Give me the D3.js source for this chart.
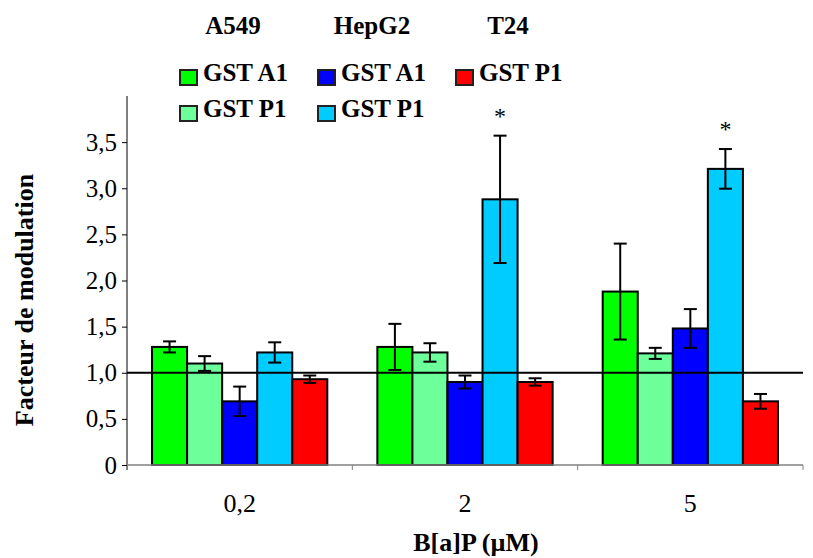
<!DOCTYPE html>
<html>
<head>
<meta charset="utf-8">
<script src="https://cdn.jsdelivr.net/npm/d3@7/dist/d3.min.js"></script>
<style>
  html, body { margin: 0; padding: 0; background: #fff; }
  svg { display: block; }
  text { font-family: "Liberation Serif", "Times New Roman", serif; fill: #000; }
</style>
</head>
<body>
<svg id="chart" width="813" height="558"></svg>
<script>
// ---- data ----
const concentrations = ["0,2", "2", "5"];
const cellLines = ["A549", "HepG2", "T24"];
const seriesKeys = ["a549A1", "a549P1", "hepg2A1", "hepg2P1", "t24P1"];
const seriesLabels = ["GST A1", "GST P1", "GST A1", "GST P1", "GST P1"];
const seriesColors = ["#00ff00", "#6cff9a", "#0000ff", "#00ccff", "#ff0000"];

const a549A1 = [1.28, 1.28, 1.88];
const a549A1Err = [0.06, 0.25, 0.52];
const a549P1 = [1.10, 1.22, 1.21];
const a549P1Err = [0.08, 0.10, 0.06];
const hepg2A1 = [0.69, 0.90, 1.48];
const hepg2A1Err = [0.16, 0.07, 0.21];
const hepg2P1 = [1.22, 2.88, 3.21];
const hepg2P1Err = [0.11, 0.69, 0.215];
const t24P1 = [0.93, 0.90, 0.69];
const t24P1Err = [0.04, 0.04, 0.08];

const significant = [{ conc: "2", key: "hepg2P1" }, { conc: "5", key: "hepg2P1" }];
const yTicks = [0, 0.5, 1.0, 1.5, 2.0, 2.5, 3.0, 3.5];
const referenceValue = 1.0;

const valuesByKey = { a549A1, a549P1, hepg2A1, hepg2P1, t24P1 };
const errByKey = { a549A1: a549A1Err, a549P1: a549P1Err, hepg2A1: hepg2A1Err, hepg2P1: hepg2P1Err, t24P1: t24P1Err };

const rows = [];
concentrations.forEach((c, i) => {
  seriesKeys.forEach((k, j) => {
    rows.push({ conc: c, key: k, color: seriesColors[j], value: valuesByKey[k][i], err: errByKey[k][i] });
  });
});

// ---- layout ----
const svg = d3.select("#chart");
const plot = { left: 127, right: 803, top: 96, bottom: 465 };

const x0 = d3.scaleBand().domain(concentrations).range([plot.left, plot.right]).padding(0);
const x1 = d3.scaleBand().domain(seriesKeys).range([0, x0.bandwidth()]).paddingInner(0).paddingOuter(0.714);
const y = d3.scaleLinear().domain([0, 4]).range([plot.bottom, plot.top]);

const fmt = v => v === 0 ? "0" : d3.format(".1f")(v).replace(".", ",");

// bars
svg.append("g").selectAll("rect").data(rows).join("rect")
  .attr("x", d => x0(d.conc) + x1(d.key))
  .attr("y", d => y(d.value))
  .attr("width", x1.bandwidth())
  .attr("height", d => y(0) - y(d.value))
  .attr("fill", d => d.color)
  .attr("stroke", "#000")
  .attr("stroke-width", 2);

// error bars
const capW = 13;
const eb = svg.append("g").attr("stroke", "#000").attr("stroke-width", 2);
rows.forEach(d => {
  const cx = x0(d.conc) + x1(d.key) + x1.bandwidth() / 2;
  eb.append("line").attr("x1", cx).attr("x2", cx).attr("y1", y(d.value + d.err)).attr("y2", y(d.value - d.err));
  eb.append("line").attr("x1", cx - capW / 2).attr("x2", cx + capW / 2).attr("y1", y(d.value + d.err)).attr("y2", y(d.value + d.err));
  eb.append("line").attr("x1", cx - capW / 2).attr("x2", cx + capW / 2).attr("y1", y(d.value - d.err)).attr("y2", y(d.value - d.err));
});

// significance stars
significant.forEach(s => {
  const d = rows.find(r => r.conc === s.conc && r.key === s.key);
  const cx = x0(d.conc) + x1(d.key) + x1.bandwidth() / 2;
  svg.append("text").attr("x", cx).attr("y", y(d.value + d.err) - 12)
    .attr("text-anchor", "middle").style("font-size", "24px").text("*");
});

// reference line at 1.0
svg.append("line")
  .attr("x1", plot.left).attr("x2", plot.right)
  .attr("y1", y(referenceValue)).attr("y2", y(referenceValue))
  .attr("stroke", "#000").attr("stroke-width", 2);

// y axis
const yAxis = svg.append("g").attr("transform", `translate(${plot.left},0)`)
  .call(d3.axisLeft(y).tickValues(yTicks).tickFormat(fmt).tickSize(5).tickSizeOuter(0).tickPadding(5));
yAxis.select(".domain").remove();
yAxis.append("line").attr("x1", 0).attr("x2", 0).attr("y1", plot.top).attr("y2", plot.bottom + 5)
  .attr("stroke", "#000").attr("stroke-width", 1);
yAxis.selectAll(".tick line").attr("stroke", "#000");
yAxis.selectAll(".tick text").style("font-size", "25px").style("font-family", "Liberation Serif").attr("fill", "#000");

// x axis
const xAxisG = svg.append("g");
xAxisG.append("line").attr("x1", plot.left).attr("x2", plot.right).attr("y1", plot.bottom).attr("y2", plot.bottom)
  .attr("stroke", "#808080").attr("stroke-width", 1.5);
const boundaries = concentrations.map(c => x0(c) + x0.bandwidth()).concat([]);
xAxisG.selectAll("line.bt").data(boundaries).join("line").attr("class", "bt")
  .attr("x1", d => d).attr("x2", d => d).attr("y1", plot.bottom).attr("y2", plot.bottom + 5)
  .attr("stroke", "#808080").attr("stroke-width", 1);
xAxisG.selectAll("text.xl").data(concentrations).join("text").attr("class", "xl")
  .attr("x", d => x0(d) + x0.bandwidth() / 2).attr("y", 512)
  .attr("text-anchor", "middle").style("font-size", "26px").text(d => d);

// axis titles
svg.append("text").attr("x", 476).attr("y", 551).attr("text-anchor", "middle")
  .style("font-size", "26px").style("font-weight", "bold").text("B[a]P (µM)");
svg.append("text").attr("transform", "translate(33,300) rotate(-90)").attr("text-anchor", "middle")
  .style("font-size", "26px").style("font-weight", "bold").text("Facteur de modulation");

// legend
const headerX = [233, 372, 508];
svg.selectAll("text.hdr").data(cellLines).join("text").attr("class", "hdr")
  .attr("x", (d, i) => headerX[i]).attr("y", 34).attr("text-anchor", "middle")
  .style("font-size", "25px").style("font-weight", "bold").text(d => d);

const legendPos = [
  { sx: 180, row: 0 }, { sx: 180, row: 1 },
  { sx: 318, row: 0 }, { sx: 318, row: 1 },
  { sx: 456, row: 0 }
];
const rowBase = [81, 117];
const lg = svg.append("g");
seriesKeys.forEach((k, i) => {
  const p = legendPos[i];
  lg.append("rect").attr("x", p.sx).attr("y", rowBase[p.row] - 11).attr("width", 17).attr("height", 15)
    .attr("fill", seriesColors[i]).attr("stroke", "#222").attr("stroke-width", 2);
  lg.append("text").attr("x", p.sx + 23).attr("y", rowBase[p.row])
    .style("font-size", "25px").style("font-weight", "bold").text(seriesLabels[i]);
});
</script>
</body>
</html>
